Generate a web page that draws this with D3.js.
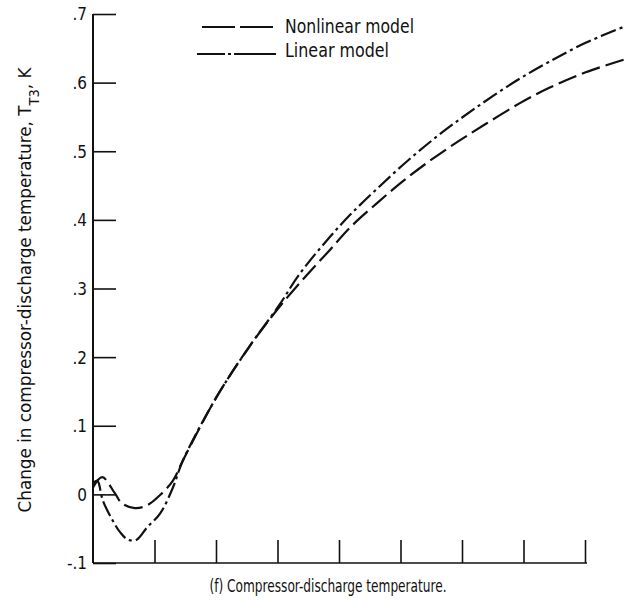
<!DOCTYPE html>
<html>
<head>
<meta charset="utf-8">
<script src="https://cdn.jsdelivr.net/npm/d3@7"></script>
<style>
  body { margin: 0; background: #fff; }
  svg { display: block; }
  text { font-family: "DejaVu Sans Condensed", "Liberation Sans Narrow", "DejaVu Sans", sans-serif; font-stretch: condensed; fill: #111; }
</style>
</head>
<body>
<svg id="chart" width="637" height="600"></svg>
<script>
// values (x in tick units, y in K)
const nonlinearX = [0, 0.15, 0.36, 0.47, 0.68, 0.88, 1.09, 1.30, 1.46, 2.01, 2.54, 3.03, 3.47, 3.84, 4.17, 4.60, 5.02, 5.46, 5.95, 6.39, 6.92, 7.41, 8.01, 8.65];
const nonlinearY = [0.010, 0.025, 0.001, -0.013, -0.020, -0.016, -0.001, 0.020, 0.049, 0.142, 0.215, 0.273, 0.319, 0.355, 0.388, 0.423, 0.455, 0.485, 0.515, 0.540, 0.569, 0.592, 0.615, 0.634];
const linearX = [0, 0.07, 0.16, 0.32, 0.44, 0.57, 0.71, 0.88, 1.09, 1.30, 1.46, 2.01, 2.54, 3.03, 3.35, 3.84, 4.21, 4.65, 5.14, 5.67, 6.22, 6.87, 7.41, 8.01, 8.65];
const linearY = [0.016, 0.020, -0.009, -0.038, -0.055, -0.066, -0.066, -0.048, -0.028, 0.010, 0.049, 0.142, 0.215, 0.276, 0.320, 0.374, 0.410, 0.448, 0.488, 0.527, 0.563, 0.602, 0.630, 0.658, 0.682];
const xTicks = [1, 2, 3, 4, 5, 6, 7, 8];
const yTicks = [-0.1, 0, 0.1, 0.2, 0.3, 0.4, 0.5, 0.6, 0.7];
const yTickLabels = ["-.1", "0", ".1", ".2", ".3", ".4", ".5", ".6", ".7"];
const seriesNames = ["Nonlinear model", "Linear model"];

const svg = d3.select('#chart');
const margin = { top: 14, left: 93 };
const innerWidth = 492;
const innerHeight = 549;

const xScale = d3.scaleLinear().domain([0, 8]).range([0, innerWidth]);
const yScale = d3.scaleLinear().domain([-0.1, 0.7]).range([innerHeight, 0]);

const g = svg.append('g')
    .attr('transform', 'translate(' + margin.left + ',' + margin.top + ')');

// y axis: ticks pointing right into the plot
const yAxis = d3.axisRight(yScale)
    .tickValues(yTicks)
    .tickSize(23)
    .tickFormat((d, i) => yTickLabels[i]);
const yG = g.append('g').call(yAxis);
yG.select('.domain').remove();
yG.selectAll('.tick line').attr('stroke', '#111').attr('stroke-width', 1.6);
yG.selectAll('.tick text')
    .attr('x', -6)
    .attr('text-anchor', 'end')
    .attr('dy', '0.35em')
    .attr('fill', '#111')
    .style('font-size', '17px')
    .style('font-family', '"DejaVu Sans Condensed", "Liberation Sans Narrow", sans-serif');
g.append('line')
    .attr('x1', 0).attr('x2', 0)
    .attr('y1', 0).attr('y2', innerHeight)
    .attr('stroke', '#111').attr('stroke-width', 2);

// x axis: ticks pointing up, no labels
const xAxis = d3.axisBottom(xScale)
    .tickValues(xTicks)
    .tickSize(-23)
    .tickFormat('');
const xG = g.append('g')
    .attr('transform', 'translate(0,' + innerHeight + ')')
    .call(xAxis);
xG.select('.domain').remove();
xG.selectAll('.tick line').attr('stroke', '#111').attr('stroke-width', 1.6);
g.append('line')
    .attr('x1', 0).attr('x2', innerWidth + 2)
    .attr('y1', innerHeight).attr('y2', innerHeight)
    .attr('stroke', '#111').attr('stroke-width', 1.6);

const line = d3.line()
    .x(d => xScale(d[0]))
    .y(d => yScale(d[1]))
    .curve(d3.curveCatmullRom.alpha(0.5));

g.append('path')
    .datum(nonlinearX.map((x, i) => [x, nonlinearY[i]]))
    .attr('d', line)
    .attr('fill', 'none')
    .attr('stroke', '#111')
    .attr('stroke-width', 2.2)
    .attr('stroke-dasharray', '19,6');

g.append('path')
    .datum(linearX.map((x, i) => [x, linearY[i]]))
    .attr('d', line)
    .attr('fill', 'none')
    .attr('stroke', '#111')
    .attr('stroke-width', 2.2)
    .attr('stroke-dasharray', '16,4,3,4');

// legend
const legend = svg.append('g').attr('transform', 'translate(200,27)');
legend.append('line')
    .attr('x1', 2).attr('x2', 74).attr('y1', 0).attr('y2', 0)
    .attr('stroke', '#111').attr('stroke-width', 2)
    .attr('stroke-dasharray', '33,5');
legend.append('line')
    .attr('x1', -3).attr('x2', 76).attr('y1', 27).attr('y2', 27)
    .attr('stroke', '#111').attr('stroke-width', 2)
    .attr('stroke-dasharray', '28,3,3,3,42');
const legendWidths = [129, 104];
legend.selectAll('text.leg')
    .data(seriesNames)
    .enter()
    .append('text')
    .attr('class', 'leg')
    .attr('x', 85)
    .attr('y', (d, i) => i * 24 + 6)
    .attr('textLength', (d, i) => legendWidths[i])
    .attr('lengthAdjust', 'spacingAndGlyphs')
    .style('font-size', '19px')
    .text(d => d);

// y axis title
const yTitle = svg.append('text')
    .attr('transform', 'translate(31,290) rotate(-90)')
    .attr('text-anchor', 'middle')
    .attr('textLength', 445)
    .attr('lengthAdjust', 'spacingAndGlyphs')
    .style('font-size', '18px');
yTitle.append('tspan').text('Change in compressor-discharge temperature, T');
yTitle.append('tspan').attr('baseline-shift', 'sub').style('font-size', '14px').text('T3');
yTitle.append('tspan').text(', K');

// caption
svg.append('text')
    .attr('x', 328)
    .attr('y', 592)
    .attr('text-anchor', 'middle')
    .attr('textLength', 237)
    .attr('lengthAdjust', 'spacingAndGlyphs')
    .style('font-size', '18px')
    .text('(f) Compressor-discharge temperature.');
</script>
</body>
</html>
